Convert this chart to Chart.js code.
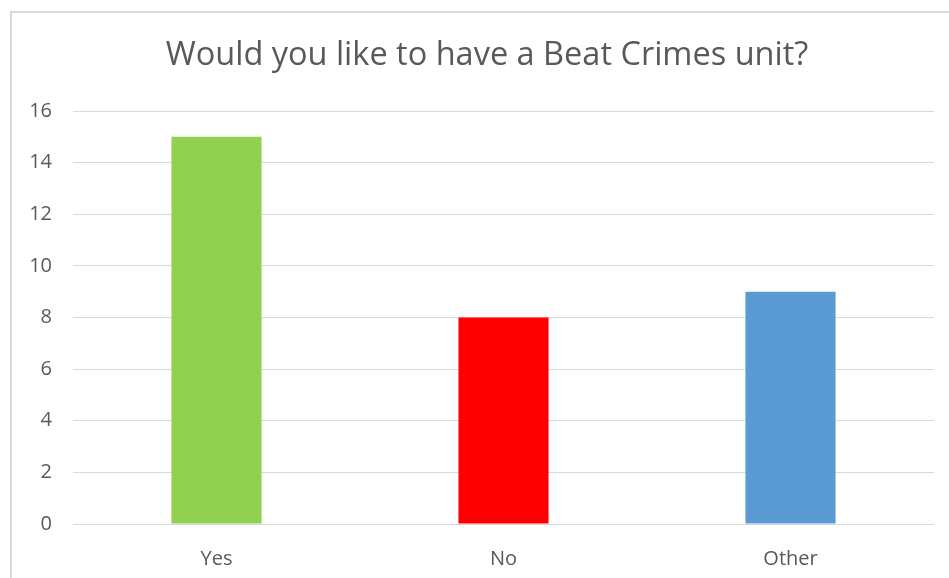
<!DOCTYPE html>
<html>
<head>
<meta charset="utf-8">
<script src="https://cdn.jsdelivr.net/npm/chart.js@4"></script>
<style>
    html, body { margin: 0; padding: 0; background: #fff; overflow: hidden; }
    #frame {
        position: absolute; left: 10px; top: 11px;
        width: 980px; height: 620px;
        border: 2px solid #d9d9d9; box-sizing: border-box;
    }
    #wrap { position: absolute; left: 0; top: 0; width: 949px; height: 578px; }
</style>
</head>
<body>
<div id="frame"></div>
<div id="wrap"><canvas id="beatChart"></canvas></div>
<script>
// --- Chart data ---
const categories = ['Yes', 'No', 'Other'];
const answerCounts = [15, 8, 9];
const barColors = ['#92D050', '#FF0000', '#5B9BD5'];
const yTicks = [0, 2, 4, 6, 8, 10, 12, 14, 16];

const textGray = '#595959';
const gridGray = '#d9d9d9';
const baseFont = "'Open Sans', sans-serif";

// Centre the title over the framed box instead of the whole canvas
const shiftTitle = {
    id: 'shiftTitle',
    afterLayout(chart) {
        if (chart.titleBlock) {
            chart.titleBlock.left = 40;
        }
    }
};

function initBeatChart(ctxId) {
    const ctx = document.getElementById(ctxId)?.getContext('2d');
    if (!ctx) {
        console.warn(`Canvas element with ID '${ctxId}' not found.`);
        return;
    }
    new Chart(ctx, {
        type: 'bar',
        data: {
            labels: categories,
            datasets: [{
                data: answerCounts,
                backgroundColor: barColors,
                borderWidth: 0,
                categoryPercentage: 1,
                barPercentage: 0.314
            }]
        },
        options: {
            responsive: true,
            maintainAspectRatio: false,
            animation: false,
            layout: {
                autoPadding: false,
                padding: { left: 0, right: 15, top: 0, bottom: 0 }
            },
            plugins: {
                legend: { display: false },
                tooltip: { enabled: false },
                title: {
                    display: true,
                    text: 'Would you like to have a Beat Crimes unit?',
                    color: textGray,
                    font: { family: baseFont, size: 32.5, weight: 'normal', lineHeight: 1.2 },
                    padding: { top: 36, bottom: 36 }
                }
            },
            scales: {
                x: {
                    grid: { display: false },
                    border: { display: false },
                    ticks: {
                        color: textGray,
                        font: { family: baseFont, size: 20, lineHeight: 1.2 },
                        padding: 15
                    },
                    afterFit(scale) { scale.height = 54; }
                },
                y: {
                    min: yTicks[0],
                    max: yTicks[yTicks.length - 1],
                    afterBuildTicks(scale) {
                        scale.ticks = yTicks.map(v => ({ value: v }));
                    },
                    grid: { color: gridGray, lineWidth: 1, drawTicks: false },
                    border: { display: false },
                    ticks: {
                        color: textGray,
                        font: { family: baseFont, size: 20, lineHeight: 1.2 },
                        padding: 21
                    },
                    afterFit(scale) { scale.width = 73; }
                }
            }
        },
        plugins: [shiftTitle]
    });
}

document.addEventListener('DOMContentLoaded', function () {
    initBeatChart('beatChart');
});
</script>
</body>
</html>
